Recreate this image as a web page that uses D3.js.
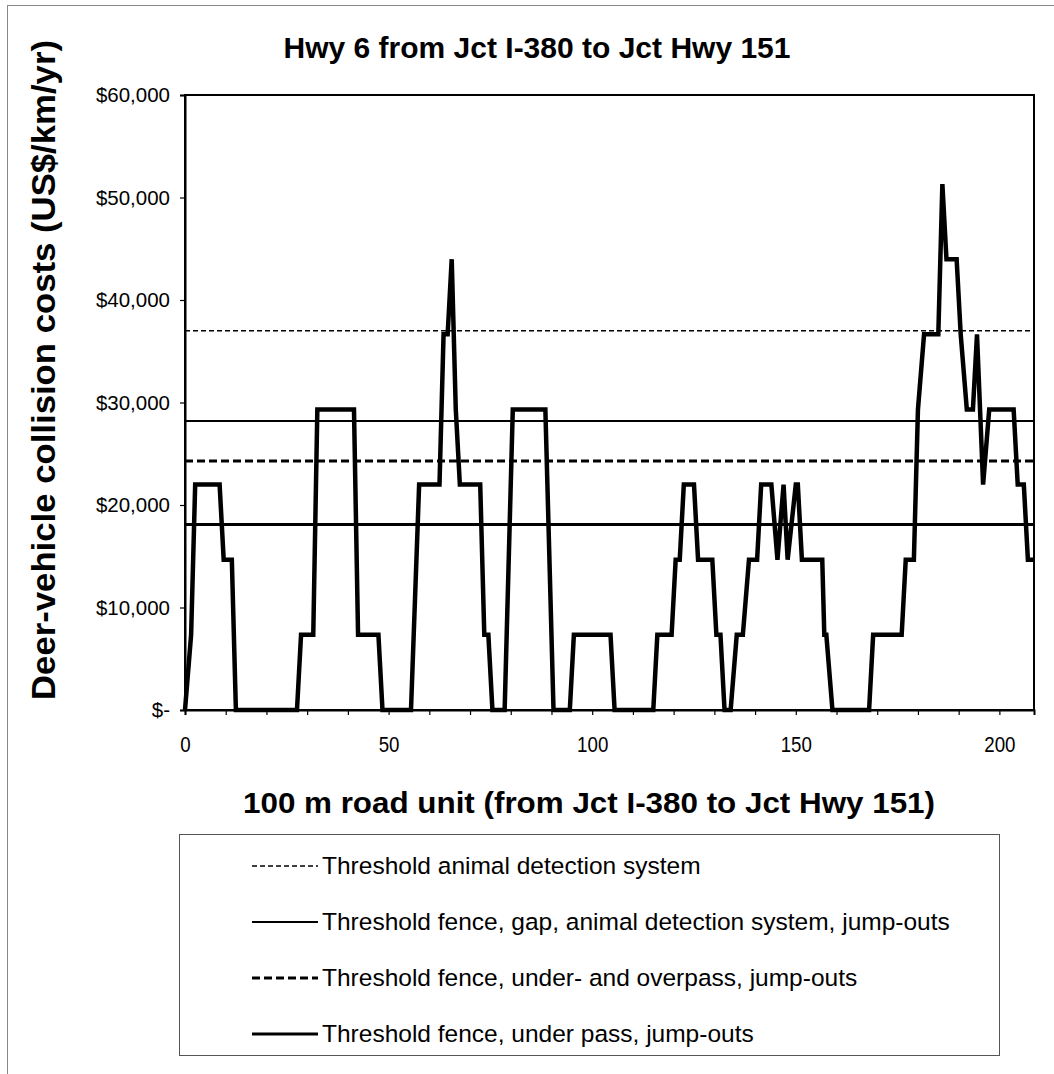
<!DOCTYPE html>
<html>
<head>
<meta charset="utf-8">
<script src="https://cdn.jsdelivr.net/npm/d3@7"></script>
<style>
	body { margin: 0; background: #fff; }
	text { font-family: 'Liberation Sans', Arial, sans-serif; fill: #000; }
</style>
</head>
<body>
<div id="chart"></div>
<script>
// road units (100 m) where the cost line changes direction
const roadUnit = [
	0, 1.5, 2.5, 8.5, 9.5, 11.5, 12.5,
	27.5, 28.5, 31.5, 32.5, 41.5, 42.5, 47.5, 48.5,
	55.5, 57.5, 62.5, 63.5, 64.5, 65.5, 66.5, 67.5, 72.5, 73.5, 74.5, 75.5,
	78.5, 80.5, 88.5, 90.5,
	94.5, 95.5, 104.5, 105.5,
	115, 116, 119.5, 120.5, 121.5, 122.5, 125, 126, 129.5, 130.5, 131.5, 132.5,
	134, 135.5, 137, 138.5, 140.5, 141.5, 144, 145.5, 147, 148, 150, 150.5, 151.5, 156.5, 157, 157.5, 159,
	168, 169, 176, 177, 179, 180, 181.5, 185, 186, 187, 189.5, 190.5, 192, 193.5, 194.5, 196, 197.5, 203.5, 204.5, 206, 207, 208.5
];
// deer-vehicle collision costs at those units (US$/km/yr)
const cost = [
	0, 7330, 21990, 21990, 14660, 14660, 0,
	0, 7330, 7330, 29320, 29320, 7330, 7330, 0,
	0, 21990, 21990, 36650, 36650, 43980, 29320, 21990, 21990, 7330, 7330, 0,
	0, 29320, 29320, 0,
	0, 7330, 7330, 0,
	0, 7330, 7330, 14660, 14660, 21990, 21990, 14660, 14660, 7330, 7330, 0,
	0, 7330, 7330, 14660, 14660, 21990, 21990, 14660, 21990, 14660, 21990, 21990, 14660, 14660, 7330, 7330, 0,
	0, 7330, 7330, 14660, 14660, 29320, 36650, 36650, 51310, 43980, 43980, 36650, 29320, 29320, 36650, 21990, 29320, 29320, 21990, 21990, 14660, 14660
];

const thresholdNames = [
	'Threshold animal detection system',
	'Threshold fence, gap, animal detection system, jump-outs',
	'Threshold fence, under- and overpass, jump-outs',
	'Threshold fence, under pass, jump-outs'
];
const thresholdValues = [37000, 28200, 24300, 18100];

const yTicks = [0, 10000, 20000, 30000, 40000, 50000, 60000];
const xLabels = [0, 50, 100, 150, 200];

// line look for each threshold, same order as above
const thresholdStyle = [
	{ width: 1.5, dash: '5,3' },
	{ width: 2, dash: null },
	{ width: 3, dash: '8,4' },
	{ width: 3, dash: null }
];

const width = 1054;
const height = 1074;
const plot = { left: 185, right: 1034, top: 95, bottom: 710 };

const svg = d3.select('#chart').append('svg').attr('width', width).attr('height', height);

// outer chart frame (only left and top edges are inside the picture)
svg
	.append('rect')
	.attr('x', 7.5)
	.attr('y', 5.5)
	.attr('width', 1100)
	.attr('height', 1100)
	.attr('fill', 'none')
	.attr('stroke', '#888');

const xScale = d3.scaleLinear().domain([0, 208.5]).range([plot.left, plot.right]);
const yScale = d3.scaleLinear().domain([0, 60000]).range([plot.bottom, plot.top]);

const xAxis = d3
	.axisBottom(xScale)
	.tickValues(d3.range(0, 201, 10))
	.tickSize(5)
	.tickPadding(21)
	.tickFormat((d) => (xLabels.includes(d) ? d : ''));
const yAxis = d3
	.axisLeft(yScale)
	.tickValues(yTicks)
	.tickSize(5)
	.tickPadding(10)
	.tickFormat((d) => (d === 0 ? '$-' : '$' + d3.format(',')(d)));

const gx = svg.append('g').attr('transform', `translate(0, ${plot.bottom})`).call(xAxis);
const gy = svg.append('g').attr('transform', `translate(${plot.left}, 0)`).call(yAxis);

[gx, gy].forEach((g) => {
	g.select('.domain').attr('stroke', '#000').attr('stroke-width', 2);
	g.selectAll('.tick line').attr('stroke', '#000').attr('stroke-width', 1.2);
	g.selectAll('.tick text').attr('font-family', "'Liberation Sans', Arial, sans-serif");
});
gx.selectAll('.tick text').attr('font-size', 22).attr('transform', 'scale(0.85,1)');
gy.selectAll('.tick text').attr('font-size', 20.5);

// plot frame
svg
	.append('rect')
	.attr('x', plot.left)
	.attr('y', plot.top)
	.attr('width', plot.right - plot.left)
	.attr('height', plot.bottom - plot.top)
	.attr('fill', 'none')
	.attr('stroke', '#000')
	.attr('stroke-width', 2);

// threshold lines
svg
	.append('g')
	.selectAll('line')
	.data(thresholdValues)
	.enter()
	.append('line')
	.attr('x1', plot.left)
	.attr('x2', plot.right)
	.attr('y1', (d) => yScale(d))
	.attr('y2', (d) => yScale(d))
	.attr('stroke', '#000')
	.attr('stroke-width', (d, i) => thresholdStyle[i].width)
	.attr('stroke-dasharray', (d, i) => thresholdStyle[i].dash);

// collision cost line
const line = d3
	.line()
	.x((d, i) => xScale(roadUnit[i]))
	.y((d) => yScale(d));

svg
	.append('path')
	.datum(cost)
	.attr('d', line)
	.attr('fill', 'none')
	.attr('stroke', '#000')
	.attr('stroke-width', 4.5)
	.attr('stroke-linejoin', 'miter');

// titles
svg
	.append('text')
	.attr('x', 537)
	.attr('y', 58)
	.attr('text-anchor', 'middle')
	.attr('font-size', 30)
	.attr('font-weight', 'bold')
	.attr('textLength', 507)
	.attr('lengthAdjust', 'spacingAndGlyphs')
	.text('Hwy 6 from Jct I-380 to Jct Hwy 151');

svg
	.append('text')
	.attr('transform', 'translate(55, 370) rotate(-90)')
	.attr('text-anchor', 'middle')
	.attr('font-size', 33)
	.attr('font-weight', 'bold')
	.attr('textLength', 660)
	.attr('lengthAdjust', 'spacingAndGlyphs')
	.text('Deer-vehicle collision costs (US$/km/yr)');

svg
	.append('text')
	.attr('x', 589)
	.attr('y', 813)
	.attr('text-anchor', 'middle')
	.attr('font-size', 29)
	.attr('font-weight', 'bold')
	.attr('textLength', 692)
	.attr('lengthAdjust', 'spacingAndGlyphs')
	.text('100 m road unit (from Jct I-380 to Jct Hwy 151)');

// legend
const legend = svg.append('g');
legend
	.append('rect')
	.attr('x', 179.5)
	.attr('y', 834.5)
	.attr('width', 820)
	.attr('height', 221)
	.attr('fill', 'none')
	.attr('stroke', '#555');

const rows = legend
	.selectAll('g')
	.data(thresholdNames)
	.enter()
	.append('g')
	.attr('transform', (d, i) => `translate(0, ${866 + i * 56})`);

rows
	.append('line')
	.attr('x1', 252)
	.attr('x2', 318)
	.attr('stroke', '#000')
	.attr('stroke-width', (d, i) => thresholdStyle[i].width)
	.attr('stroke-dasharray', (d, i) => thresholdStyle[i].dash);

rows
	.append('text')
	.attr('x', 322)
	.attr('y', 8)
	.attr('font-size', 24.5)
	.text((d) => d);
</script>
</body>
</html>
